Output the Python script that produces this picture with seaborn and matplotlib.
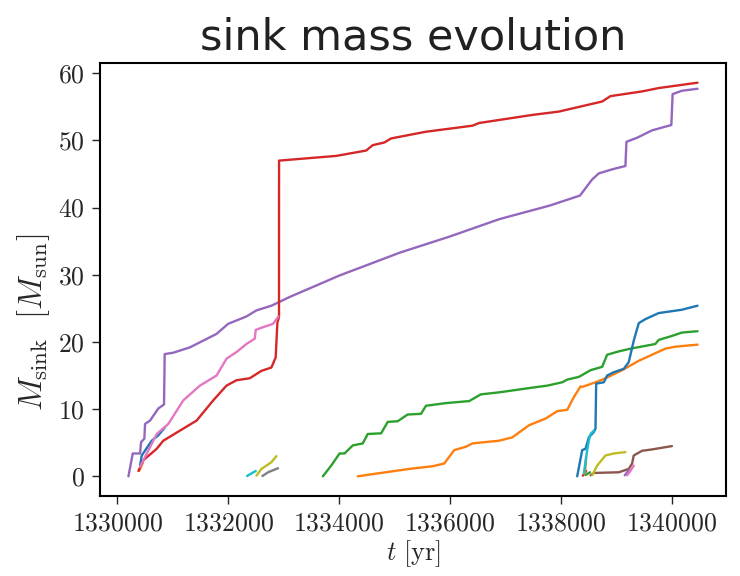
import numpy as np
import pandas as pd
import matplotlib
matplotlib.use("Agg")
import matplotlib.pyplot as plt
import seaborn as sns

# ---------------- data (time in yr, mass in Msun) ----------------
T_BLUE_EARLY = [1330414, 1330444, 1330624, 1330743, 1330863]
M_BLUE_EARLY = [1.6, 3.1, 5.3, 6.1, 7.3]

T_ORANGE_EARLY = [1330396, 1330430, 1330468]
M_ORANGE_EARLY = [0.8, 1.4, 2.1]

T_GREEN_BIG = [1333712, 1333862, 1334012, 1334102, 1334251, 1334431, 1334521, 1334762,
               1334881, 1335061, 1335241, 1335481, 1335571, 1335931, 1336350, 1336560,
               1336890, 1337489, 1337759, 1338029, 1338119, 1338329, 1338540, 1338749,
               1338839, 1339049, 1339259, 1339709, 1339768, 1340008, 1340188, 1340470]
M_GREEN_BIG = [0.0, 1.6, 3.4, 3.4, 4.6, 4.9, 6.3, 6.4,
               8.1, 8.2, 9.2, 9.3, 10.5, 10.9, 11.2, 12.2,
               12.5, 13.2, 13.5, 14.0, 14.4, 14.8, 15.8, 16.3,
               18.1, 18.6, 19.0, 19.7, 20.3, 20.9, 21.4, 21.6]

T_RED_BIG = [1330384, 1330474, 1330714, 1330833, 1331133, 1331434, 1331733, 1331973,
             1332153, 1332393, 1332603, 1332783, 1332860, 1332891, 1332920, 1332921,
             1333952, 1334492, 1334611, 1334821, 1334941, 1335571, 1336410, 1336530,
             1337489, 1337969, 1338749, 1338899, 1339468, 1339768, 1340470]
M_RED_BIG = [0.8, 2.4, 4.1, 5.3, 6.8, 8.3, 11.3, 13.5,
             14.3, 14.6, 15.7, 16.2, 17.7, 22.9, 23.7, 47.0,
             47.7, 48.5, 49.3, 49.7, 50.3, 51.3, 52.2, 52.6,
             53.8, 54.3, 55.8, 56.6, 57.3, 57.8, 58.6]

T_PURPLE_BIG = [1330204, 1330282, 1330414, 1330432, 1330491, 1330504, 1330594, 1330743,
                1330846, 1330858, 1331013, 1331313, 1331793, 1332003, 1332333, 1332513,
                1332783, 1333112, 1334012, 1335100, 1336000, 1336900, 1337800, 1338350,
                1338450, 1338569, 1338689, 1338929, 1339169, 1339187, 1339378, 1339648,
                1339997, 1340020, 1340188, 1340470]
M_PURPLE_BIG = [0.0, 3.4, 3.4, 5.1, 5.6, 7.8, 8.3, 10.1,
                10.7, 18.2, 18.4, 19.2, 21.2, 22.7, 23.8, 24.7,
                25.4, 26.7, 29.9, 33.3, 35.7, 38.3, 40.3, 41.8,
                42.9, 44.2, 45.1, 45.7, 46.2, 49.8, 50.4, 51.5,
                52.3, 56.9, 57.4, 57.7]

T_BROWN_LATE = [1338540, 1338599, 1339049, 1339229, 1339289, 1339319, 1339468, 1339648, 1340008]
M_BROWN_LATE = [0.15, 0.5, 0.6, 1.1, 1.9, 3.1, 3.8, 4.0, 4.5]

T_PINK_EARLY = [1330414, 1330714, 1330923, 1331193, 1331493, 1331793, 1331973, 1332153,
                1332333, 1332483, 1332501, 1332632, 1332812, 1332909]
M_PINK_EARLY = [1.4, 6.3, 7.8, 11.3, 13.5, 15.0, 17.5, 18.5,
                19.7, 20.5, 21.8, 22.2, 22.7, 23.8]

T_GRAY_EARLY = [1332621, 1332722, 1332812, 1332902]
M_GRAY_EARLY = [0.05, 0.6, 0.9, 1.2]

T_OLIVE_EARLY = [1332513, 1332603, 1332693, 1332783, 1332873]
M_OLIVE_EARLY = [0.1, 1.1, 1.6, 2.1, 3.0]

T_CYAN_EARLY = [1332344, 1332501]
M_CYAN_EARLY = [0.05, 0.8]

T_BLUE_LATE = [1338299, 1338389, 1338449, 1338509, 1338599, 1338629, 1338641, 1338779,
               1338839, 1338959, 1339139, 1339229, 1339319, 1339409, 1339529, 1339768,
               1340188, 1340470]
M_BLUE_LATE = [0.0, 3.9, 4.1, 5.8, 6.6, 7.1, 13.8, 14.0,
               15.0, 15.5, 16.0, 17.0, 20.2, 22.8, 23.4, 24.3,
               24.8, 25.4]

T_ORANGE_BIG = [1334341, 1334672, 1335271, 1335690, 1335900, 1335990, 1336080, 1336291,
                1336410, 1336890, 1337129, 1337429, 1337729, 1337939, 1338119, 1338239,
                1338360, 1338389, 1338629, 1338809, 1339109, 1339409, 1339648, 1339888,
                1340068, 1340470]
M_ORANGE_BIG = [0.0, 0.4, 1.1, 1.5, 1.9, 2.9, 3.9, 4.4,
                4.9, 5.3, 5.8, 7.6, 8.6, 9.7, 9.9, 11.8,
                13.4, 13.3, 14.0, 14.6, 15.8, 17.2, 18.1, 19.0,
                19.3, 19.6]

T_GREEN_TINY = [1338450, 1338490, 1338530]
M_GREEN_TINY = [0.2, 0.4, 0.6]

T_RED_TINY = [1338400, 1338430, 1338460]
M_RED_TINY = [0.1, 0.4, 0.8]

T_ORANGE_TINY = [1338437, 1338450, 1338460]
M_ORANGE_TINY = [0.4, 1.6, 2.9]

T_PURPLE_TINY = [1339157, 1339190, 1339229]
M_PURPLE_TINY = [0.15, 0.5, 0.9]

T_PINK_LATE = [1339199, 1339260, 1339319]
M_PINK_LATE = [0.15, 0.8, 1.6]

T_OLIVE_LATE = [1338569, 1338659, 1338809, 1338959, 1339169]
M_OLIVE_LATE = [0.15, 1.6, 3.1, 3.4, 3.6]

T_CYAN_LATE = [1338419, 1338479, 1338509, 1338540, 1338599]
M_CYAN_LATE = [0.4, 3.9, 5.3, 6.3, 6.8]

SINKS = [
    ("sink01", T_BLUE_EARLY, M_BLUE_EARLY),
    ("sink02", T_ORANGE_EARLY, M_ORANGE_EARLY),
    ("sink03", T_GREEN_BIG, M_GREEN_BIG),
    ("sink05", T_PURPLE_BIG, M_PURPLE_BIG),
    ("sink04", T_RED_BIG, M_RED_BIG),
    ("sink06", T_BROWN_LATE, M_BROWN_LATE),
    ("sink07", T_PINK_EARLY, M_PINK_EARLY),
    ("sink08", T_GRAY_EARLY, M_GRAY_EARLY),
    ("sink09", T_OLIVE_EARLY, M_OLIVE_EARLY),
    ("sink10", T_CYAN_EARLY, M_CYAN_EARLY),
    ("sink11", T_ORANGE_BIG, M_ORANGE_BIG),
    ("sink12", T_BLUE_LATE, M_BLUE_LATE),
    ("sink13", T_GREEN_TINY, M_GREEN_TINY),
    ("sink14", T_RED_TINY, M_RED_TINY),
    ("sink15", T_ORANGE_TINY, M_ORANGE_TINY),
    ("sink16", T_PURPLE_TINY, M_PURPLE_TINY),
    ("sink17", T_PINK_LATE, M_PINK_LATE),
    ("sink18", T_OLIVE_LATE, M_OLIVE_LATE),
    ("sink19", T_CYAN_LATE, M_CYAN_LATE),
]
# tab10 colour index for each sink (style)
COLOR_IDX = {"sink01": 0, "sink02": 1, "sink03": 2, "sink04": 3, "sink05": 4,
             "sink06": 5, "sink07": 6, "sink08": 7, "sink09": 8, "sink10": 9,
             "sink11": 1, "sink12": 0, "sink13": 2, "sink14": 3, "sink15": 1,
             "sink16": 4, "sink17": 6, "sink18": 8, "sink19": 9}

rows = []
for name, t, m in SINKS:
    for ti, mi in zip(t, m):
        rows.append((name, ti, mi))
df = pd.DataFrame(rows, columns=["sink", "t", "M"])

# ---------------- style ----------------
sns.set_theme(style="ticks")
plt.rcParams["font.family"] = "serif"
plt.rcParams["font.serif"] = ["cmr10", "DejaVu Serif"]
plt.rcParams["mathtext.fontset"] = "cm"
plt.rcParams["axes.formatter.use_mathtext"] = True
plt.rcParams["axes.formatter.useoffset"] = False
plt.rcParams["axes.unicode_minus"] = False

tab10 = sns.color_palette("tab10", 10)
palette = {name: tab10[COLOR_IDX[name]] for name, _, _ in SINKS}

fig = plt.figure(figsize=(7.4, 5.76), dpi=100)
ax = fig.add_axes([0.1351, 0.1389, 0.846, 0.7517])

sns.lineplot(data=df, x="t", y="M", hue="sink", hue_order=[s[0] for s in SINKS],
             palette=palette, estimator=None, sort=False, legend=False,
             linewidth=1.7, ax=ax)

ax.ticklabel_format(axis="x", style="plain", useOffset=False)
ax.set_xticks([1330000, 1332000, 1334000, 1336000, 1338000, 1340000])
ax.set_yticks([0, 10, 20, 30, 40, 50, 60])
ax.tick_params(axis="both", labelsize=18.5, length=6, width=1.0, color="0.15", pad=5)
for sp in ax.spines.values():
    sp.set_linewidth(1.5)
    sp.set_color("black")

ax.set_xlabel(r"$t\ [\mathrm{yr}]$", fontsize=19, labelpad=2)
ax.set_ylabel(r"$M_{\mathrm{sink}}\ \ [M_{\mathrm{sun}}]$", fontsize=23.5)
ax.yaxis.set_label_coords(-0.077, 0.40)
ax.set_title("sink mass evolution", fontsize=31, pad=10,
             family=["DejaVu Sans"], color="0.13")

fig.savefig("out.png", dpi=100)
